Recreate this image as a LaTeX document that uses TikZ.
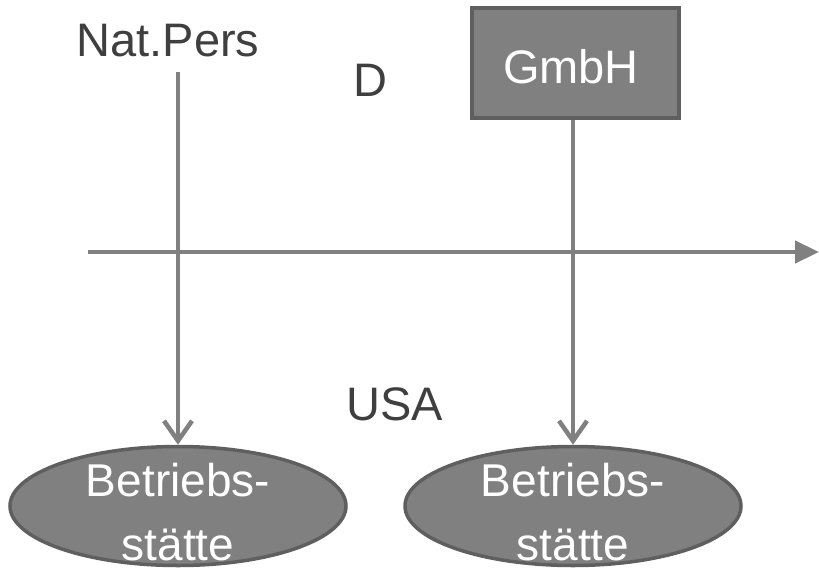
\documentclass[tikz,border=0pt]{standalone}
\usepackage{fontspec}
\setmainfont{Liberation Sans}
\usetikzlibrary{arrows.meta,shapes.geometric}
\definecolor{fillgray}{HTML}{808080}
\definecolor{edgegray}{HTML}{5F5F5F}
\definecolor{linegray}{HTML}{808080}
\definecolor{textgray}{HTML}{3F3F3F}
\begin{document}
\begin{tikzpicture}[x=1pt,y=-1pt,
  lbl/.style={font=\fontsize{47}{56}\selectfont, text=textgray, inner sep=0pt, anchor=base},
  conn/.style={draw=linegray, line width=4.5pt, -{Straight Barb[length=20pt,width=28pt,line width=4.5pt]}},
  pe/.style={ellipse, fill=fillgray, draw=edgegray, line width=3.5pt, minimum width=336pt, minimum height=119pt, inner sep=0pt},
  petext/.style={text=white, align=center, inner sep=0pt, font=\fontsize{46}{64}\selectfont}]
\useasboundingbox (0,0) rectangle (819,568);
\node[lbl] (nat) at (168,56) {Nat.Pers};
\coordinate (natb) at (178,72);
\node[lbl] (d) at (370,96) {D};
\node[lbl] (usa) at (395,420) {USA};
\node[draw=edgegray, fill=fillgray, line width=3.5pt, minimum width=207pt, minimum height=110pt, inner sep=0pt] (gmbh) at (575.5,63) {};
\node[text=white, font=\fontsize{47}{56}\selectfont, inner sep=0pt, anchor=base] (gmbht) at (571,83) {GmbH};
\coordinate (axs) at (88,252);
\coordinate (axe) at (819,252);
\draw[draw=linegray, line width=4.5pt, -{Triangle[length=24pt,width=22pt]}] (axs) -- (axe);
\node[pe] (b1) at (178,506) {};
\node[petext, anchor=base] (b1t) at (178,560) {Betriebs-\\stätte};
\node[pe] (b2) at (573,506) {};
\node[petext, anchor=base] (b2t) at (573,560) {Betriebs-\\stätte};
\draw[conn] (natb) -- (b1.north);
\draw[conn] (gmbh.south -| b2.north) -- (b2.north);
\end{tikzpicture}
\end{document}
